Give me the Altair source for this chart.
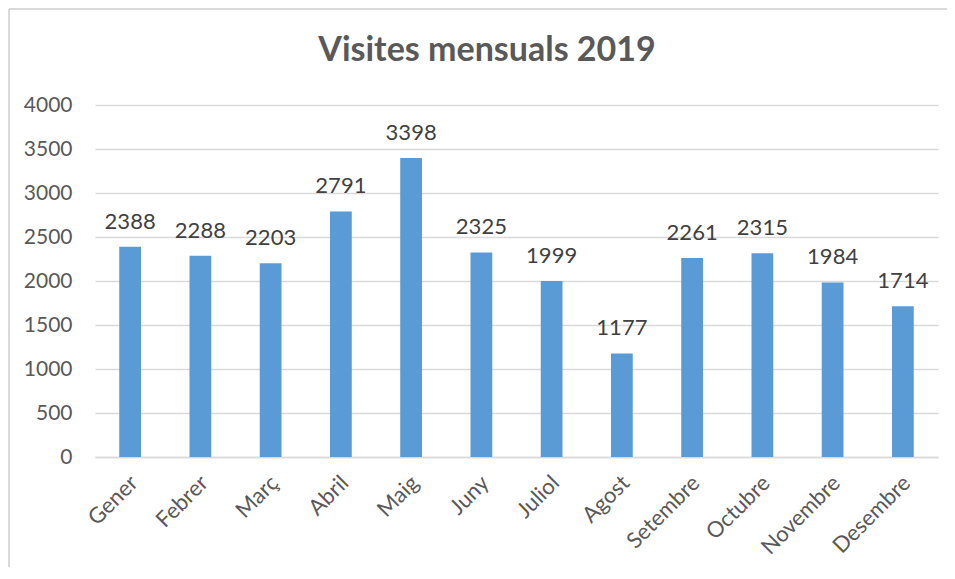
import altair as alt
import pandas as pd

months = ["Gener", "Febrer", "Març", "Abril", "Maig", "Juny", "Juliol",
          "Agost", "Setembre", "Octubre", "Novembre", "Desembre"]
visits = [2388, 2288, 2203, 2791, 3398, 2325, 1999, 1177, 2261, 2315, 1984, 1714]
y_ticks = [0, 500, 1000, 1500, 2000, 2500, 3000, 3500, 4000]
title_text = ["Visites mensuals 2019"]

df = pd.DataFrame({"mes": months, "visites": visits})
tdf = pd.DataFrame({"t": title_text})

W, H = 843, 352
PL, PT, PR, PB = 87, 97, 9, 110
FONT = "Lato"

x = alt.X("mes:N", sort=months, title=None,
          scale=alt.Scale(paddingInner=0.69, paddingOuter=0.345),
          axis=alt.Axis(labelAngle=-45, labelAlign="right", labelBaseline="middle",
                        labelPadding=22, labelFontSize=22, labelFont=FONT,
                        labelColor="#595959", ticks=False, domainColor="#D9D9D9",
                        domainWidth=1.5, grid=False, labelOffset=4))
y = alt.Y("visites:Q", title=None,
          scale=alt.Scale(domain=[0, 4000], nice=False),
          axis=alt.Axis(values=y_ticks, format="d", labelFontSize=21, labelFont=FONT,
                        labelColor="#595959", ticks=False, domain=False,
                        gridColor="#D9D9D9", gridWidth=1.5, labelPadding=23))

bars = alt.Chart(df).mark_bar(color="#5B9BD5").encode(x=x, y=y)
labels = alt.Chart(df).mark_text(baseline="bottom", dy=-13, fontSize=22,
                                 font=FONT, color="#404040").encode(
    x=alt.X("mes:N", sort=months), y="visites:Q", text="visites:Q")

title = alt.Chart(tdf).mark_text(fontSize=34, font=FONT, fontWeight="bold",
                                 color="#595959", baseline="middle", align="center").encode(
    x=alt.value(392), y=alt.value(-54), text="t:N")

border_top = alt.Chart(df).mark_rule(color="#D9D9D9", strokeWidth=2).encode(
    x=alt.value(-PL + 1), x2=alt.value(W + PR), y=alt.value(-PT + 1))
border_left = alt.Chart(df).mark_rule(color="#D9D9D9", strokeWidth=2).encode(
    x=alt.value(-PL + 1), y=alt.value(-PT + 1), y2=alt.value(H + PB))

chart = alt.layer(bars, labels, title, border_top, border_left).properties(
    width=W, height=H,
    background="white",
    autosize=alt.AutoSizeParams(type="none"),
    padding={"left": PL, "top": PT, "right": PR, "bottom": PB},
).configure_view(stroke=None, strokeWidth=0)

chart.save("out.html", embed_options={"renderer": "svg", "actions": False})
